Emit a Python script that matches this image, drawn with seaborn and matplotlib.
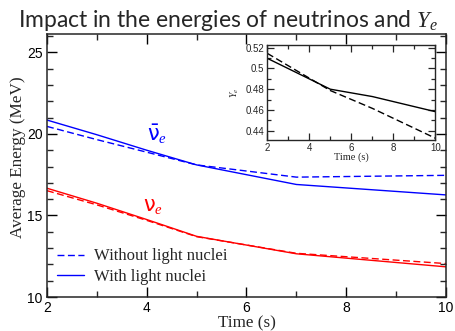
import matplotlib
matplotlib.use("Agg")
import matplotlib.pyplot as plt
from matplotlib.ticker import MultipleLocator
import seaborn as sns
import pandas as pd

# Mean neutrino energies (MeV) versus time (s)
time_energy = [2, 3, 4, 5, 7, 10]
anue_without = [20.46, 19.65, 18.88, 18.10, 17.35, 17.46]
anue_with = [20.85, 19.95, 19.00, 18.10, 16.90, 16.26]
nue_without = [16.52, 15.65, 14.70, 13.70, 12.68, 12.05]
nue_with = [16.67, 15.75, 14.75, 13.72, 12.65, 11.85]

# Electron fraction versus time (s)
time_ye = [2, 5, 7, 10]
ye_without = [0.5146, 0.4787, 0.4615, 0.4327]
ye_with = [0.5098, 0.4800, 0.4729, 0.4583]

legend_labels = ["Without light nuclei", "With light nuclei"]
title_text = "Impact in the energies of neutrinos and $Y_e$"

sns.set_theme(style="ticks")
plt.rcParams.update({
    "font.family": ["Liberation Sans", "DejaVu Sans"],
    "mathtext.fontset": "custom",
    "mathtext.rm": "DejaVu Sans",
    "mathtext.it": "Liberation Serif:italic",
    "axes.linewidth": 1.1,
    "xtick.direction": "in",
    "ytick.direction": "in",
    "xtick.top": True,
    "ytick.right": True,
})

energy = pd.concat([
    pd.DataFrame({"t": time_energy, "E": anue_without, "case": legend_labels[0], "flavour": "anue"}),
    pd.DataFrame({"t": time_energy, "E": anue_with, "case": legend_labels[1], "flavour": "anue"}),
    pd.DataFrame({"t": time_energy, "E": nue_without, "case": legend_labels[0], "flavour": "nue"}),
    pd.DataFrame({"t": time_energy, "E": nue_with, "case": legend_labels[1], "flavour": "nue"}),
])
ye = pd.concat([
    pd.DataFrame({"t": time_ye, "Ye": ye_without, "case": legend_labels[0]}),
    pd.DataFrame({"t": time_ye, "Ye": ye_with, "case": legend_labels[1]}),
])

dash = (0, (5, 2.5))
styles = {legend_labels[0]: dash, legend_labels[1]: "-"}
colors = {"anue": "#0000ff", "nue": "#ff0000"}

fig = plt.figure(figsize=(4.56, 3.31), dpi=100)
ax = fig.add_axes([0.103, 0.1027, 0.875, 0.7933])

for flavour in ["anue", "nue"]:
    for case in legend_labels:
        sub = energy[(energy.flavour == flavour) & (energy.case == case)]
        sns.lineplot(data=sub, x="t", y="E", ax=ax, color=colors[flavour],
                     linestyle=styles[case], linewidth=1.0, legend=False,
                     label=case if flavour == "anue" else None)

ax.set_xlim(2, 10)
ax.set_ylim(10, 26.1)
ax.xaxis.set_major_locator(MultipleLocator(2))
ax.xaxis.set_minor_locator(MultipleLocator(1))
ax.yaxis.set_major_locator(MultipleLocator(5))
ax.yaxis.set_minor_locator(MultipleLocator(1))
ax.tick_params(which="major", length=7.5, width=1.0, labelsize=10, pad=3, colors="black")
ax.tick_params(which="minor", length=4.5, width=1.0)
ax.set_xlabel("Time (s)", family="Liberation Serif", fontsize=12.3, labelpad=0)
ax.set_ylabel("Average Energy (MeV)", family="Liberation Serif", fontsize=12.3,
              labelpad=1, y=0.534)

ax.text(4.2, 20.0, r"$\bar{\mathrm{\nu}}_{e}$", color=colors["anue"], fontsize=15,
        ha="center", va="center")
ax.text(4.12, 15.55, r"$\mathrm{\nu}_{e}$", color=colors["nue"], fontsize=15,
        ha="center", va="center")

handles, labels = ax.get_legend_handles_labels()
ax.legend(handles, labels, loc="upper left", bbox_to_anchor=(0.025, 0.185),
          frameon=False, prop={"family": "Liberation Serif", "size": 12},
          handlelength=1.6, handletextpad=0.6, labelspacing=0.25,
          borderaxespad=0, borderpad=0)

fig.text(0.5, 0.918, title_text, ha="center", va="baseline",
         family=["Lato", "DejaVu Sans"], fontsize=16.5)

# Electron fraction inset
ins = fig.add_axes([0.586, 0.577, 0.369, 0.287])
for case in legend_labels:
    sub = ye[ye.case == case]
    sns.lineplot(data=sub, x="t", y="Ye", ax=ins, color="black",
                 linestyle=styles[case], linewidth=1.0, legend=False)
ins.set_xlim(2, 10)
ins.set_ylim(0.431, 0.5226)
ins.xaxis.set_major_locator(MultipleLocator(2))
ins.xaxis.set_minor_locator(MultipleLocator(1))
ins.yaxis.set_major_locator(MultipleLocator(0.02))
ins.yaxis.set_minor_locator(MultipleLocator(0.01))
ins.yaxis.set_major_formatter(plt.FuncFormatter(lambda v, p: f"{v:.2f}".rstrip("0") if v != 0.5 else "0.5"))
ins.tick_params(which="major", length=5, width=0.9, labelsize=7, pad=2)
ins.tick_params(which="minor", length=3, width=0.9)
for sp in ins.spines.values():
    sp.set_linewidth(1.0)
ins.set_xlabel("Time (s)", family="Liberation Serif", fontsize=7.5, labelpad=0)
ins.set_ylabel("$Y_e$", fontsize=7, labelpad=3)

fig.savefig("out.png", dpi=100)
